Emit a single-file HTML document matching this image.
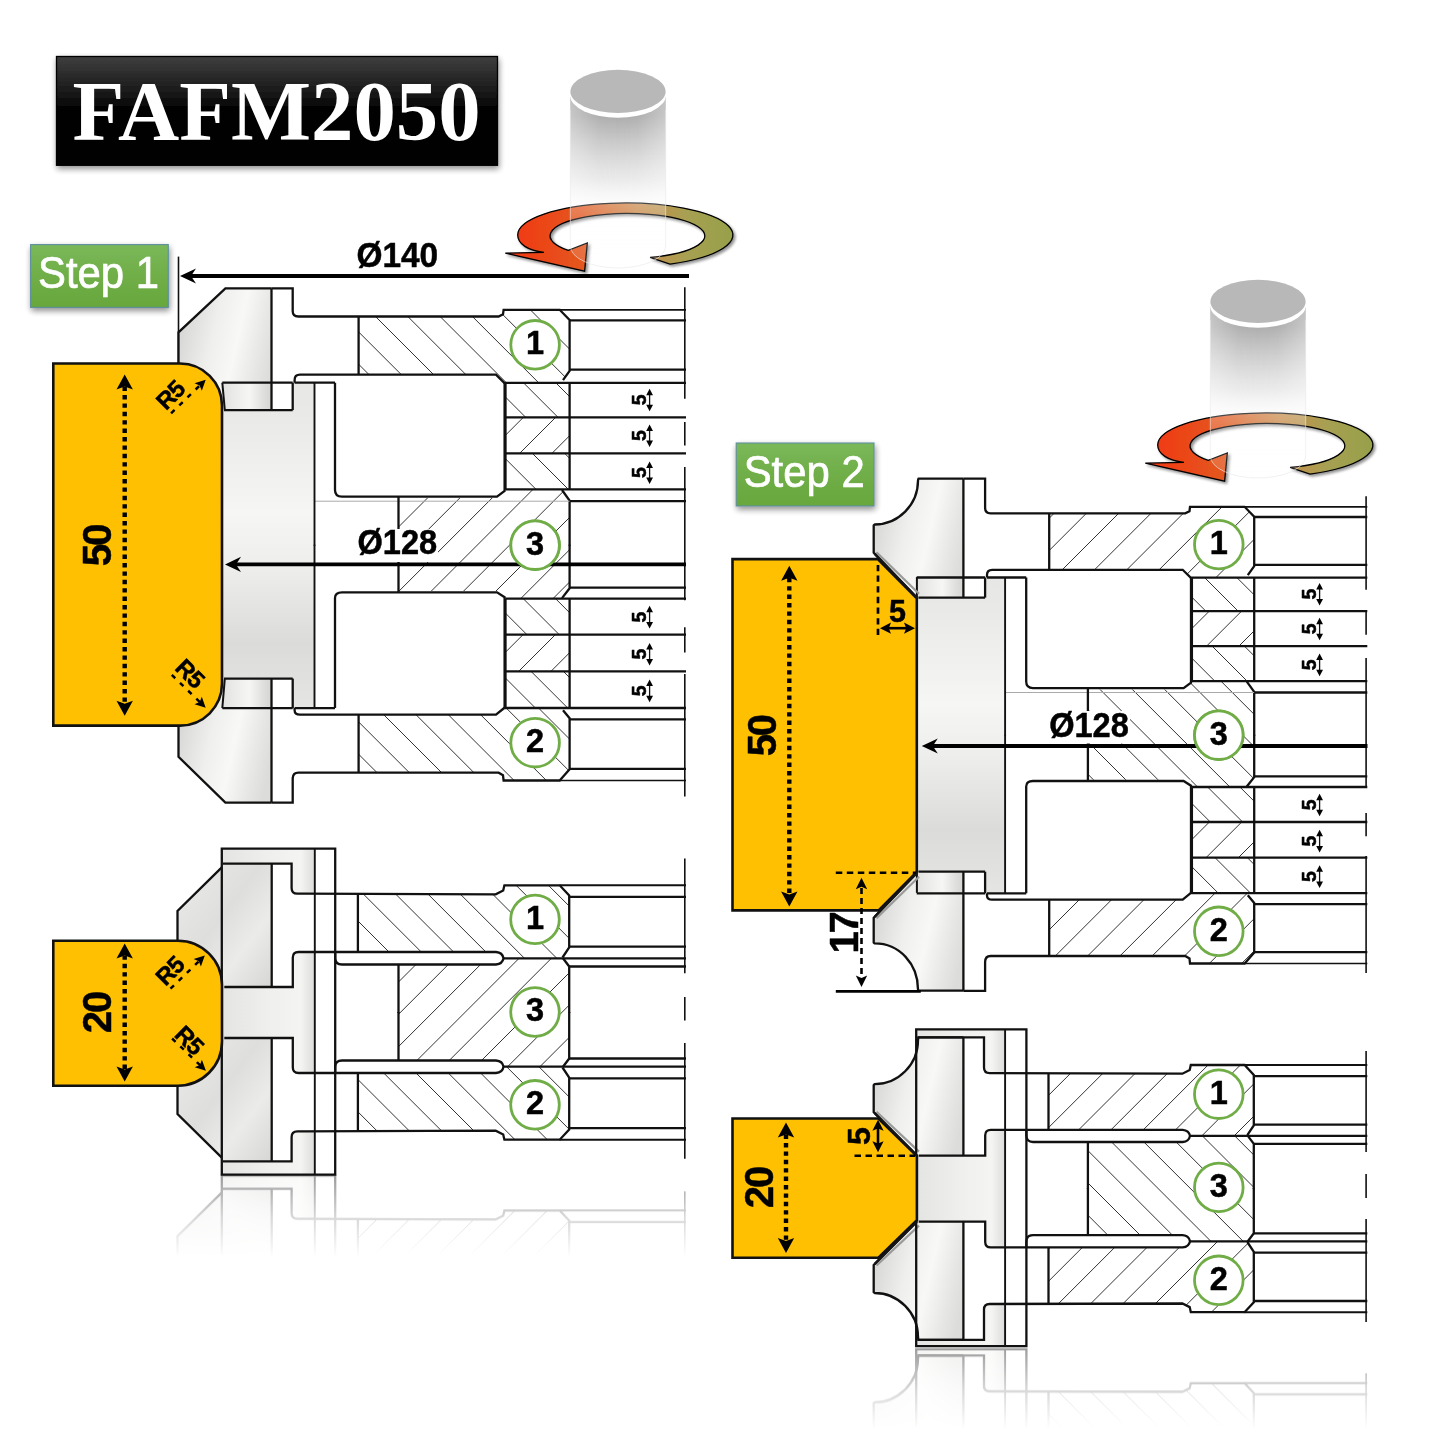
<!DOCTYPE html>
<html><head><meta charset="utf-8"><title>FAFM2050</title>
<style>
html,body{margin:0;padding:0;background:#fff;}
body{width:1445px;height:1445px;overflow:hidden;font-family:"Liberation Sans",sans-serif;}
svg{display:block;}
</style></head><body>
<svg width="1445" height="1445" viewBox="0 0 1445 1445">
<defs>

<linearGradient id="gTitle" x1="0" y1="0" x2="0" y2="1">
 <stop offset="0" stop-color="#3f3f3f"/><stop offset="0.18" stop-color="#2a2a2a"/><stop offset="0.34" stop-color="#181818"/><stop offset="0.5" stop-color="#000"/><stop offset="1" stop-color="#000"/>
</linearGradient>
<linearGradient id="gGreen" x1="0" y1="0" x2="0" y2="1">
 <stop offset="0" stop-color="#7ab85a"/><stop offset="0.5" stop-color="#70ae48"/><stop offset="1" stop-color="#67a73c"/>
</linearGradient>
<linearGradient id="gCyl" x1="0" y1="92" x2="0" y2="268" gradientUnits="userSpaceOnUse">
 <stop offset="0" stop-color="#9a9a9a" stop-opacity="0.95"/><stop offset="0.14" stop-color="#a4a4a4" stop-opacity="0.9"/>
 <stop offset="0.32" stop-color="#c4c4c4" stop-opacity="0.8"/><stop offset="0.5" stop-color="#e0e0e0" stop-opacity="0.65"/>
 <stop offset="0.62" stop-color="#f2f2f2" stop-opacity="0.32"/><stop offset="0.75" stop-color="#ffffff" stop-opacity="0.17"/><stop offset="1" stop-color="#ffffff" stop-opacity="0.13"/>
</linearGradient>
<linearGradient id="gCylH" x1="570" y1="0" x2="666" y2="0" gradientUnits="userSpaceOnUse">
 <stop offset="0" stop-color="#fff" stop-opacity="0.34"/><stop offset="0.3" stop-color="#fff" stop-opacity="0.04"/><stop offset="0.5" stop-color="#fff" stop-opacity="0"/>
 <stop offset="0.7" stop-color="#fff" stop-opacity="0.04"/><stop offset="1" stop-color="#fff" stop-opacity="0.34"/>
</linearGradient>
<linearGradient id="gRot" x1="520" y1="0" x2="733" y2="0" gradientUnits="userSpaceOnUse">
 <stop offset="0" stop-color="#f03c14"/><stop offset="0.28" stop-color="#e4561f"/><stop offset="0.55" stop-color="#cc8a4a"/>
 <stop offset="0.78" stop-color="#a7a052"/><stop offset="1" stop-color="#96a04a"/>
</linearGradient>
<linearGradient id="gKnife" x1="0" y1="0.35" x2="1" y2="0.65">
 <stop offset="0" stop-color="#d6d6d4"/><stop offset="0.35" stop-color="#efefed"/><stop offset="0.6" stop-color="#f8f8f6"/><stop offset="0.85" stop-color="#e6e6e4"/><stop offset="1" stop-color="#dcdcda"/>
</linearGradient>
<linearGradient id="gSeat" x1="0" y1="0" x2="1" y2="0">
 <stop offset="0" stop-color="#e2e2e0"/><stop offset="0.55" stop-color="#f6f6f4"/><stop offset="0.85" stop-color="#dededc"/><stop offset="1" stop-color="#d4d4d2"/>
</linearGradient>
<linearGradient id="gHub" x1="0" y1="0" x2="0" y2="1">
 <stop offset="0" stop-color="#e7e7e5"/><stop offset="0.1" stop-color="#e9e9e7"/><stop offset="0.4" stop-color="#f6f6f4"/>
 <stop offset="0.56" stop-color="#eeeeec"/><stop offset="0.8" stop-color="#dbdbd9"/><stop offset="1" stop-color="#e5e5e3"/>
</linearGradient>
<linearGradient id="gKnifeS" x1="0" y1="0" x2="1" y2="1">
 <stop offset="0" stop-color="#ececea"/><stop offset="0.45" stop-color="#dededc"/><stop offset="0.7" stop-color="#ebebe9"/><stop offset="1" stop-color="#d6d6d4"/>
</linearGradient>
<linearGradient id="gPlate" x1="0" y1="0" x2="1" y2="0">
 <stop offset="0" stop-color="#e4e4e2"/><stop offset="0.5" stop-color="#efefed"/><stop offset="0.85" stop-color="#f4f4f2"/><stop offset="1" stop-color="#dcdcda"/>
</linearGradient>
<filter id="fSh" x="-10%" y="-20%" width="120%" height="150%">
 <feGaussianBlur in="SourceAlpha" stdDeviation="3.2"/><feOffset dx="0.5" dy="3"/><feComponentTransfer><feFuncA type="linear" slope="0.45"/></feComponentTransfer>
 <feMerge><feMergeNode/><feMergeNode in="SourceGraphic"/></feMerge>
</filter>
<filter id="fSh2" x="-10%" y="-30%" width="120%" height="170%">
 <feGaussianBlur in="SourceAlpha" stdDeviation="1.8"/><feOffset dx="1.5" dy="2"/><feComponentTransfer><feFuncA type="linear" slope="0.45"/></feComponentTransfer>
 <feMerge><feMergeNode/><feMergeNode in="SourceGraphic"/></feMerge>
</filter>
<linearGradient id="gFadeL" x1="0" y1="1175" x2="0" y2="1258" gradientUnits="userSpaceOnUse">
 <stop offset="0" stop-color="#fff" stop-opacity="0.42"/><stop offset="0.5" stop-color="#fff" stop-opacity="0.17"/><stop offset="1" stop-color="#fff" stop-opacity="0"/>
</linearGradient>
<mask id="mL" maskUnits="userSpaceOnUse" x="0" y="1170" width="760" height="120"><rect x="0" y="1170" width="760" height="120" fill="url(#gFadeL)"/></mask>
<linearGradient id="gFadeR" x1="0" y1="1348" x2="0" y2="1430" gradientUnits="userSpaceOnUse">
 <stop offset="0" stop-color="#fff" stop-opacity="0.42"/><stop offset="0.5" stop-color="#fff" stop-opacity="0.17"/><stop offset="1" stop-color="#fff" stop-opacity="0"/>
</linearGradient>
<mask id="mR" maskUnits="userSpaceOnUse" x="700" y="1345" width="745" height="100"><rect x="700" y="1345" width="745" height="100" fill="url(#gFadeR)"/></mask>

<clipPath id="h1"><path d="M358.6 316.5L498.6 316.5L503 314.3L503.6 309.8L559.7 309.8L569.6 319.9L569.6 371L563.4 379.7L562 382.8L504.2 382.8L496 374.7L358.6 374.7Z"/></clipPath>
<clipPath id="h2"><path d="M358.6 772.7L498.6 772.7L503 775.3L503.6 780.5L559.7 780.5L569.6 769.2L569.6 718.2L563.4 710.6L562 708L504.2 708L496 714.7L358.6 714.7Z"/></clipPath>
<clipPath id="h3"><path d="M505.5 382.8L569.6 382.8L569.6 417.3L505.5 417.3Z"/></clipPath>
<clipPath id="h4"><path d="M505.5 708L569.6 708L569.6 671.4L505.5 671.4Z"/></clipPath>
<clipPath id="h5"><path d="M505.5 417.3L569.6 417.3L569.6 453.4L505.5 453.4Z"/></clipPath>
<clipPath id="h6"><path d="M505.5 671.4L569.6 671.4L569.6 634.7L505.5 634.7Z"/></clipPath>
<clipPath id="h7"><path d="M505.5 453.4L569.6 453.4L569.6 489.4L505.5 489.4Z"/></clipPath>
<clipPath id="h8"><path d="M505.5 634.7L569.6 634.7L569.6 598.6L505.5 598.6Z"/></clipPath>
<clipPath id="h9"><path d="M398.5 498L504.4 498L504.4 489.4L562 489.4L569.6 500.4L569.6 588.5L562 598.6L504.4 598.6L504.4 591L398.5 591Z"/></clipPath>
<clipPath id="h10"><path d="M357.9 894.3L495.7 894.3L503.5 890L504.4 885.3L559.7 885.3L569.2 895.5L569.2 947.5L563 957L562 958.3L504 958.3L496 952L357.9 952Z"/></clipPath>
<clipPath id="h11"><path d="M357.9 1130.7L495.7 1130.7L503.5 1135L504.4 1139.7L559.7 1139.7L569.2 1129.5L569.2 1077.5L563 1068L562 1066.7L504 1066.7L496 1073L357.9 1073Z"/></clipPath>
<clipPath id="h12"><path d="M398.5 964.5L500 964.5L503 958.3L563 958.3L569.2 966.5L569.2 1058.5L563 1066.7L503 1066.7L500 1060.5L398.5 1060.5Z"/></clipPath>
<clipPath id="h13"><path d="M1049.2 513.3L1185.2 513.3L1189.5 511.2L1190 506.8L1244.6 506.8L1254.2 516.6L1254.2 566.2L1248.2 574.6L1246.8 577.6L1190.6 577.6L1182.7 569.8L1049.2 569.8Z"/></clipPath>
<clipPath id="h14"><path d="M1049.2 956L1185.2 956L1189.5 958.4L1190 963.5L1244.6 963.5L1254.2 952.6L1254.2 903L1248.2 895.7L1246.8 893.2L1190.6 893.2L1182.7 899.7L1049.2 899.7Z"/></clipPath>
<clipPath id="h15"><path d="M1191.9 577.6L1254.2 577.6L1254.2 611.1L1191.9 611.1Z"/></clipPath>
<clipPath id="h16"><path d="M1191.9 893.2L1254.2 893.2L1254.2 857.7L1191.9 857.7Z"/></clipPath>
<clipPath id="h17"><path d="M1191.9 611.1L1254.2 611.1L1254.2 646.1L1191.9 646.1Z"/></clipPath>
<clipPath id="h18"><path d="M1191.9 857.7L1254.2 857.7L1254.2 822L1191.9 822Z"/></clipPath>
<clipPath id="h19"><path d="M1191.9 646.1L1254.2 646.1L1254.2 681.1L1191.9 681.1Z"/></clipPath>
<clipPath id="h20"><path d="M1191.9 822L1254.2 822L1254.2 787L1191.9 787Z"/></clipPath>
<clipPath id="h21"><path d="M1087.9 689.4L1190.8 689.4L1190.8 681.1L1246.8 681.1L1254.2 691.7L1254.2 777.3L1246.8 787L1190.8 787L1190.8 779.7L1087.9 779.7Z"/></clipPath>
<clipPath id="h22"><path d="M1048.5 1073.7L1182.4 1073.7L1190 1069.6L1190.8 1065L1244.6 1065L1253.8 1074.9L1253.8 1125.4L1247.8 1134.7L1246.8 1135.9L1190.4 1135.9L1182.7 1129.8L1048.5 1129.8Z"/></clipPath>
<clipPath id="h23"><path d="M1048.5 1303.5L1182.4 1303.5L1190 1307.6L1190.8 1312.2L1244.6 1312.2L1253.8 1302.3L1253.8 1251.8L1247.8 1242.5L1246.8 1241.3L1190.4 1241.3L1182.7 1247.4L1048.5 1247.4Z"/></clipPath>
<clipPath id="h24"><path d="M1087.9 1142L1186.6 1142L1189.5 1135.9L1247.8 1135.9L1253.8 1143.9L1253.8 1233.3L1247.8 1241.3L1189.5 1241.3L1186.6 1235.2L1087.9 1235.2Z"/></clipPath>
</defs>
<rect width="1445" height="1445" fill="#fff"/>
<g opacity="0.999">
<g filter="url(#fSh)"><rect x="56.5" y="56.5" width="441" height="108.8" fill="url(#gTitle)" stroke="#000" stroke-width="1.3"/></g>
<text x="276.6" y="140"  font-family="Liberation Serif, serif" font-weight="700" font-size="84.8" text-anchor="middle" fill="#fff">FAFM2050</text>
<g filter="url(#fSh)"><rect x="30.6" y="244.6" width="137.7" height="62.8" fill="url(#gGreen)" stroke="#5f8f9f" stroke-width="1.1"/></g>
<text transform="translate(98.5 288.2) scale(0.93 1)" x="0" y="0" font-family="Liberation Sans, sans-serif" font-weight="400" font-size="45" text-anchor="middle" fill="#fff" stroke="#fff" stroke-width="0.7">Step 1</text>
<g filter="url(#fSh)"><rect x="736.2" y="443" width="137.8" height="63" fill="url(#gGreen)" stroke="#5f8f9f" stroke-width="1.1"/></g>
<text transform="translate(804.2 486.8) scale(0.93 1)" x="0" y="0" font-family="Liberation Sans, sans-serif" font-weight="400" font-size="45" text-anchor="middle" fill="#fff" stroke="#fff" stroke-width="0.7">Step 2</text>
<line x1="178.5" y1="256.6" x2="178.5" y2="364" stroke="#111" stroke-width="1.6" />
<path d="M178.5 332.3L225.4 288.4L271.5 288.4L271.5 382.7L222 382.7L222 412L178.5 412Z" fill="url(#gKnife)" stroke="none" stroke-width="0" />
<path d="M222.3 382.7L271.5 382.7L271.5 410.1L224.8 410.1Z" fill="url(#gSeat)" stroke="none" stroke-width="0" />
<path d="M178.5 364L178.5 332.3L225.4 288.4L271.5 288.4" fill="none" stroke="#111" stroke-width="2.3" stroke-linejoin="miter"/>
<path d="M222.3 382.7L224.8 410.1" fill="none" stroke="#111" stroke-width="2" />
<path d="M178.5 756.8L225.4 802.6L271.5 802.6L271.5 708.1L222 708.1L222 676.7L178.5 676.7Z" fill="url(#gKnife)" stroke="none" stroke-width="0" />
<path d="M222.3 708.1L271.5 708.1L271.5 678.6L224.8 678.6Z" fill="url(#gSeat)" stroke="none" stroke-width="0" />
<path d="M178.5 725.1L178.5 756.8L225.4 802.6L271.5 802.6" fill="none" stroke="#111" stroke-width="2.3" stroke-linejoin="miter"/>
<path d="M222.3 708.1L224.8 678.6" fill="none" stroke="#111" stroke-width="2" />
<path d="M222 410.1L292.7 410.1L292.7 382.7L314.5 382.7L314.5 708.1L292.7 708.1L292.7 678.6L222 678.6Z" fill="url(#gHub)" stroke="none" stroke-width="0" />
<path clip-path="url(#h1)" d="M269.9 307.8L346.9 384.8M302.2 307.8L379.2 384.8M334.5 307.8L411.5 384.8M366.8 307.8L443.8 384.8M399.1 307.8L476.1 384.8M431.4 307.8L508.4 384.8M463.7 307.8L540.7 384.8M496 307.8L573 384.8M528.3 307.8L605.3 384.8M560.6 307.8L637.6 384.8" fill="none" stroke="#333" stroke-width="1"/>
<path clip-path="url(#h2)" d="M278.1 706L354.6 782.5M310.4 706L386.9 782.5M342.7 706L419.2 782.5M375 706L451.5 782.5M407.3 706L483.8 782.5M439.6 706L516.1 782.5M471.9 706L548.4 782.5M504.2 706L580.7 782.5M536.5 706L613 782.5" fill="none" stroke="#333" stroke-width="1"/>
<path clip-path="url(#h3)" d="M456.9 380.8L495.4 419.3M489.2 380.8L527.7 419.3M521.5 380.8L560 419.3M553.8 380.8L592.3 419.3" fill="none" stroke="#333" stroke-width="1"/>
<path clip-path="url(#h4)" d="M464.5 669.4L505.1 710M496.8 669.4L537.4 710M529.1 669.4L569.7 710M561.4 669.4L602 710" fill="none" stroke="#333" stroke-width="1"/>
<path clip-path="url(#h5)" d="M493.1 415.3L453 455.4M525.4 415.3L485.3 455.4M557.7 415.3L517.6 455.4M590 415.3L549.9 455.4" fill="none" stroke="#333" stroke-width="1"/>
<path clip-path="url(#h6)" d="M492.7 632.7L452 673.4M525 632.7L484.3 673.4M557.3 632.7L516.6 673.4M589.6 632.7L548.9 673.4" fill="none" stroke="#333" stroke-width="1"/>
<path clip-path="url(#h7)" d="M465.8 451.4L505.8 491.4M498.1 451.4L538.1 491.4M530.4 451.4L570.4 491.4M562.7 451.4L602.7 491.4" fill="none" stroke="#333" stroke-width="1"/>
<path clip-path="url(#h8)" d="M456.6 596.6L496.7 636.7M488.9 596.6L529 636.7M521.2 596.6L561.3 636.7M553.5 596.6L593.6 636.7" fill="none" stroke="#333" stroke-width="1"/>
<path clip-path="url(#h9)" d="M373.5 487.4L260.3 600.6M405.8 487.4L292.6 600.6M438.1 487.4L324.9 600.6M470.4 487.4L357.2 600.6M502.7 487.4L389.5 600.6M535 487.4L421.8 600.6M567.3 487.4L454.1 600.6M599.6 487.4L486.4 600.6M631.9 487.4L518.7 600.6M664.2 487.4L551 600.6" fill="none" stroke="#333" stroke-width="1"/>
<path d="M271.5 288.4L292.7 288.4L292.7 311Q292.7 316.5 298.3 316.5L498.6 316.5L503 314.3L503.6 309.8L559.7 309.8L569.6 319.9L569.6 371L563 380.2" fill="none" stroke="#111" stroke-width="2.3" />
<path d="M271.5 802.6L292.7 802.6L292.7 779.1Q292.7 772.7 298.3 772.7L498.6 772.7L503 775.3L503.6 780.5L559.7 780.5L569.6 769.2L569.6 718.2L563 710.2" fill="none" stroke="#111" stroke-width="2.3" />
<path d="M358.6 316.5L358.6 374.7" fill="none" stroke="#111" stroke-width="2.3" />
<path d="M358.6 772.7L358.6 714.7" fill="none" stroke="#111" stroke-width="2.3" />
<path d="M294.6 382.7L294.6 380Q294.6 374.7 300 374.7L496 374.7L504.2 382.8L686 382.8" fill="none" stroke="#111" stroke-width="2.3" />
<path d="M294.6 708.1L294.6 710.3Q294.6 714.7 300 714.7L496 714.7L504.2 708L686 708" fill="none" stroke="#111" stroke-width="2.3" />
<path d="M559.7 309.8L686 309.8" fill="none" stroke="#111" stroke-width="1.7" />
<path d="M559.7 780.5L686 780.5" fill="none" stroke="#111" stroke-width="1.7" />
<path d="M569.6 320.3L686 320.3" fill="none" stroke="#111" stroke-width="2.3" />
<path d="M569.6 768.8L686 768.8" fill="none" stroke="#111" stroke-width="2.3" />
<path d="M569.6 369.7L686 369.7" fill="none" stroke="#111" stroke-width="2.3" />
<path d="M569.6 719.4L686 719.4" fill="none" stroke="#111" stroke-width="2.3" />
<path d="M505.5 417.3L686 417.3" fill="none" stroke="#111" stroke-width="2.3" />
<path d="M505.5 671.4L686 671.4" fill="none" stroke="#111" stroke-width="2.3" />
<path d="M505.5 453.4L686 453.4" fill="none" stroke="#111" stroke-width="2.3" />
<path d="M505.5 634.7L686 634.7" fill="none" stroke="#111" stroke-width="2.3" />
<path d="M505.5 489.4L686 489.4" fill="none" stroke="#111" stroke-width="2.3" />
<path d="M505.5 598.6L686 598.6" fill="none" stroke="#111" stroke-width="2.3" />
<path d="M505.5 382.8L505.5 489.4" fill="none" stroke="#111" stroke-width="2.3" />
<path d="M505.5 708L505.5 598.6" fill="none" stroke="#111" stroke-width="2.3" />
<path d="M569.6 382.8L569.6 489.4" fill="none" stroke="#111" stroke-width="2.3" />
<path d="M569.6 708L569.6 598.6" fill="none" stroke="#111" stroke-width="2.3" />
<path d="M562 490L569.6 500.6L569.6 545.7" fill="none" stroke="#111" stroke-width="2.3" />
<path d="M562 598.1L569.6 588.3L569.6 544.7" fill="none" stroke="#111" stroke-width="2.3" />
<path d="M569.6 501.2L686 501.2" fill="none" stroke="#111" stroke-width="2.3" />
<path d="M569.6 587.7L686 587.7" fill="none" stroke="#111" stroke-width="2.3" />
<path d="M314.5 501.2L569.6 501.2" fill="none" stroke="#aaa" stroke-width="1" />
<path d="M398.5 497L398.5 545.7" fill="none" stroke="#111" stroke-width="2.3" />
<path d="M398.5 592.1L398.5 544.7" fill="none" stroke="#111" stroke-width="2.3" />
<path d="M335 382.7L335 490Q335 496.7 342 496.7L497 496.7L504.6 491L504.6 382.8" fill="none" stroke="#111" stroke-width="2.3" />
<path d="M335 708.1L335 598.1Q335 592.4 342 592.4L497 592.4L504.6 597.2L504.6 708" fill="none" stroke="#111" stroke-width="2.3" />
<path d="M314.5 382.7L314.5 545.7" fill="none" stroke="#111" stroke-width="1.9" />
<path d="M314.5 708.1L314.5 544.7" fill="none" stroke="#111" stroke-width="1.9" />
<path d="M294.6 382.7L335 382.7" fill="none" stroke="#111" stroke-width="2.3" />
<path d="M294.6 708.1L335 708.1" fill="none" stroke="#111" stroke-width="2.3" />
<path d="M222.3 382.7L292.7 382.7" fill="none" stroke="#111" stroke-width="2.3" />
<path d="M222.3 708.1L292.7 708.1" fill="none" stroke="#111" stroke-width="2.3" />
<path d="M224 410.1L292.7 410.1" fill="none" stroke="#111" stroke-width="2.3" />
<path d="M224 678.6L292.7 678.6" fill="none" stroke="#111" stroke-width="2.3" />
<path d="M271.5 288.4L271.5 410.1" fill="none" stroke="#111" stroke-width="2.3" />
<path d="M271.5 802.6L271.5 678.6" fill="none" stroke="#111" stroke-width="2.3" />
<path d="M292.7 382.7L292.7 410.1" fill="none" stroke="#111" stroke-width="2.3" />
<path d="M292.7 708.1L292.7 678.6" fill="none" stroke="#111" stroke-width="2.3" />
<line x1="684.8" y1="287.2" x2="684.8" y2="398.7" stroke="#111" stroke-width="1.6" />
<line x1="684.8" y1="422.1" x2="684.8" y2="445.5" stroke="#111" stroke-width="1.6" />
<line x1="684.8" y1="467.1" x2="684.8" y2="600.3" stroke="#111" stroke-width="1.6" />
<line x1="684.8" y1="627.2" x2="684.8" y2="652.4" stroke="#111" stroke-width="1.6" />
<line x1="684.8" y1="674" x2="684.8" y2="796.4" stroke="#111" stroke-width="1.6" />
<circle cx="535.1" cy="344.8" r="24.3" fill="#fff" stroke="#70ad47" stroke-width="2.8"/>
<text x="535.1" y="354.1" font-family="Liberation Sans, sans-serif" font-weight="700" font-size="32.5" text-anchor="middle" fill="#000" stroke="#000" stroke-width="0.5">1</text>
<circle cx="535.1" cy="545.2" r="24.3" fill="#fff" stroke="#70ad47" stroke-width="2.8"/>
<text x="535.1" y="554.5" font-family="Liberation Sans, sans-serif" font-weight="700" font-size="32.5" text-anchor="middle" fill="#000" stroke="#000" stroke-width="0.5">3</text>
<circle cx="535.1" cy="742.7" r="24.3" fill="#fff" stroke="#70ad47" stroke-width="2.8"/>
<text x="535.1" y="752" font-family="Liberation Sans, sans-serif" font-weight="700" font-size="32.5" text-anchor="middle" fill="#000" stroke="#000" stroke-width="0.5">2</text>
<text x="0" y="7" transform="translate(639 399.9) rotate(-90)" font-family="Liberation Sans, sans-serif" font-weight="700" font-size="19.5" text-anchor="middle" fill="#000" stroke="#000" stroke-width="0.5" stroke-linejoin="round">5</text>
<line x1="649.6" y1="391.7" x2="649.6" y2="408.3" stroke="#111" stroke-width="1.3" />
<polygon points="649.6,388.7 653,395.2 646.2,395.2" fill="#000"/>
<polygon points="649.6,411.3 646.2,404.8 653,404.8" fill="#000"/>
<text x="0" y="7" transform="translate(639 435.6) rotate(-90)" font-family="Liberation Sans, sans-serif" font-weight="700" font-size="19.5" text-anchor="middle" fill="#000" stroke="#000" stroke-width="0.5" stroke-linejoin="round">5</text>
<line x1="649.6" y1="427.4" x2="649.6" y2="444" stroke="#111" stroke-width="1.3" />
<polygon points="649.6,424.4 653,430.9 646.2,430.9" fill="#000"/>
<polygon points="649.6,447 646.2,440.5 653,440.5" fill="#000"/>
<text x="0" y="7" transform="translate(639 472.6) rotate(-90)" font-family="Liberation Sans, sans-serif" font-weight="700" font-size="19.5" text-anchor="middle" fill="#000" stroke="#000" stroke-width="0.5" stroke-linejoin="round">5</text>
<line x1="649.6" y1="464.4" x2="649.6" y2="481" stroke="#111" stroke-width="1.3" />
<polygon points="649.6,461.4 653,467.9 646.2,467.9" fill="#000"/>
<polygon points="649.6,484 646.2,477.5 653,477.5" fill="#000"/>
<text x="0" y="7" transform="translate(639 617) rotate(-90)" font-family="Liberation Sans, sans-serif" font-weight="700" font-size="19.5" text-anchor="middle" fill="#000" stroke="#000" stroke-width="0.5" stroke-linejoin="round">5</text>
<line x1="649.6" y1="608.8" x2="649.6" y2="625.4" stroke="#111" stroke-width="1.3" />
<polygon points="649.6,605.8 653,612.3 646.2,612.3" fill="#000"/>
<polygon points="649.6,628.4 646.2,621.9 653,621.9" fill="#000"/>
<text x="0" y="7" transform="translate(639 654.2) rotate(-90)" font-family="Liberation Sans, sans-serif" font-weight="700" font-size="19.5" text-anchor="middle" fill="#000" stroke="#000" stroke-width="0.5" stroke-linejoin="round">5</text>
<line x1="649.6" y1="646" x2="649.6" y2="662.6" stroke="#111" stroke-width="1.3" />
<polygon points="649.6,643 653,649.5 646.2,649.5" fill="#000"/>
<polygon points="649.6,665.6 646.2,659.1 653,659.1" fill="#000"/>
<text x="0" y="7" transform="translate(639 690.8) rotate(-90)" font-family="Liberation Sans, sans-serif" font-weight="700" font-size="19.5" text-anchor="middle" fill="#000" stroke="#000" stroke-width="0.5" stroke-linejoin="round">5</text>
<line x1="649.6" y1="682.6" x2="649.6" y2="699.2" stroke="#111" stroke-width="1.3" />
<polygon points="649.6,679.6 653,686.1 646.2,686.1" fill="#000"/>
<polygon points="649.6,702.2 646.2,695.7 653,695.7" fill="#000"/>
<path d="M53.3 363.5 H180 A42 42 0 0 1 222 405.5 V683.6 A42 42 0 0 1 180 725.6 H53.3 Z" fill="#ffc000" stroke="#111" stroke-width="2.6"/>
<polygon points="124.7,374.6 132.9,389.6 124.7,386.6 116.5,389.6" fill="#000"/>
<polygon points="124.7,715.7 116.5,700.7 124.7,703.7 132.9,700.7" fill="#000"/>
<line x1="124.7" y1="386.6" x2="124.7" y2="703.7" stroke="#000" stroke-width="4.4" stroke-dasharray="4.4 4"/>
<text x="-1.1" y="14.5" transform="translate(96.4 544.8) rotate(-90)" font-family="Liberation Sans, sans-serif" font-weight="700" font-size="40.5" text-anchor="middle" fill="#000" stroke="#000" stroke-width="0.5" stroke-linejoin="round" letter-spacing="-2.2">50</text>
<text x="-0.4" y="8.6" transform="translate(170.4 394.6) rotate(-45)" font-family="Liberation Sans, sans-serif" font-weight="700" font-size="24" text-anchor="middle" fill="#000" stroke="#000" stroke-width="0.5" stroke-linejoin="round" letter-spacing="-0.8">R5</text>
<line x1="171.1" y1="413.3" x2="200.7" y2="384.6" stroke="#000" stroke-width="2.5" stroke-dasharray="4.8 6.6"/>
<polygon points="205.7,379.7 201.8,390.7 199.7,385.5 194.5,383.3" fill="#000"/>
<text x="-0.4" y="8.6" transform="translate(190.5 673.5) rotate(45)" font-family="Liberation Sans, sans-serif" font-weight="700" font-size="24" text-anchor="middle" fill="#000" stroke="#000" stroke-width="0.5" stroke-linejoin="round" letter-spacing="-0.8">R5</text>
<line x1="171.8" y1="674.9" x2="200.7" y2="702.9" stroke="#000" stroke-width="2.5" stroke-dasharray="4.8 6.6"/>
<polygon points="205.7,707.8 194.5,704.2 199.7,702 201.8,696.8" fill="#000"/>
<line x1="188" y1="276" x2="689" y2="276" stroke="#000" stroke-width="3.8" />
<polygon points="180,276 196,268.4 191,276 196,283.6" fill="#000"/>
<text x="0" y="0" transform="translate(397.3 267) scale(0.95 1)" font-family="Liberation Sans, sans-serif" font-weight="700" font-size="35.2" text-anchor="middle" fill="#000" stroke="#000" stroke-width="0.5" stroke-linejoin="round">&#216;140</text>
<line x1="233" y1="564.4" x2="686" y2="564.4" stroke="#000" stroke-width="3.8" />
<polygon points="225,564.4 241,556.8 236,564.4 241,572" fill="#000"/>
<rect x="357" y="529" width="81" height="33" fill="#fff"/>
<text x="0" y="0" transform="translate(397.3 554.2) scale(0.95 1)" font-family="Liberation Sans, sans-serif" font-weight="700" font-size="34.3" text-anchor="middle" fill="#000" stroke="#000" stroke-width="0.5" stroke-linejoin="round">&#216;128</text>
<circle cx="535.1" cy="545.2" r="24.3" fill="#fff" stroke="#70ad47" stroke-width="2.8"/>
<text x="535.1" y="554.5" font-family="Liberation Sans, sans-serif" font-weight="700" font-size="32.5" text-anchor="middle" fill="#000" stroke="#000" stroke-width="0.5">3</text>
<g id="lowL">
<path d="M221.8 848.7L314.8 848.7L314.8 1174.6L221.8 1174.6Z" fill="url(#gPlate)" stroke="none" stroke-width="0" />
<path d="M177.5 911L221.8 867.4L221.8 863.6L271.7 863.6L271.7 987L177.5 987Z" fill="url(#gKnifeS)" stroke="none" stroke-width="0" />
<path d="M177.5 942L177.5 911L221.8 867.4" fill="none" stroke="#111" stroke-width="2.3" stroke-linejoin="miter"/>
<path d="M177.5 1114L221.8 1157.6L221.8 1161.4L271.7 1161.4L271.7 1038L177.5 1038Z" fill="url(#gKnifeS)" stroke="none" stroke-width="0" />
<path d="M177.5 1083L177.5 1114L221.8 1157.6" fill="none" stroke="#111" stroke-width="2.3" stroke-linejoin="miter"/>
<path d="M271.7 863.6L291.6 863.6L291.6 888Q291.6 893.5 297.3 893.5L336 893.5L336 952L298.5 952Q292.8 952 292.8 957.5L292.8 987L271.7 987Z" fill="#fff" stroke="none" stroke-width="0" />
<path d="M271.7 1161.4L291.6 1161.4L291.6 1137Q291.6 1131.5 297.3 1131.5L336 1131.5L336 1073L298.5 1073Q292.8 1073 292.8 1067.5L292.8 1038L271.7 1038Z" fill="#fff" stroke="none" stroke-width="0" />
<path d="M314.8 848.7L335.2 848.7L335.2 1174.6L314.8 1174.6Z" fill="#fff" stroke="none" stroke-width="0" />
<path clip-path="url(#h10)" d="M255.7 883.3L332.7 960.3M288 883.3L365 960.3M320.3 883.3L397.3 960.3M352.6 883.3L429.6 960.3M384.9 883.3L461.9 960.3M417.2 883.3L494.2 960.3M449.5 883.3L526.5 960.3M481.8 883.3L558.8 960.3M514.1 883.3L591.1 960.3M546.4 883.3L623.4 960.3" fill="none" stroke="#333" stroke-width="1"/>
<path clip-path="url(#h11)" d="M278.5 1064.7L355.5 1141.7M310.8 1064.7L387.8 1141.7M343.1 1064.7L420.1 1141.7M375.4 1064.7L452.4 1141.7M407.7 1064.7L484.7 1141.7M440 1064.7L517 1141.7M472.3 1064.7L549.3 1141.7M504.6 1064.7L581.6 1141.7M536.9 1064.7L613.9 1141.7" fill="none" stroke="#333" stroke-width="1"/>
<path clip-path="url(#h12)" d="M391.9 956.3L279.5 1068.7M424.2 956.3L311.8 1068.7M456.5 956.3L344.1 1068.7M488.8 956.3L376.4 1068.7M521.1 956.3L408.7 1068.7M553.4 956.3L441 1068.7M585.7 956.3L473.3 1068.7M618 956.3L505.6 1068.7M650.3 956.3L537.9 1068.7" fill="none" stroke="#333" stroke-width="1"/>
<path d="M221.8 848.7L335.2 848.7L335.2 1174.6L221.8 1174.6Z" fill="none" stroke="#111" stroke-width="2.3" />
<path d="M314.8 848.7L314.8 1174.6" fill="none" stroke="#111" stroke-width="1.9" />
<path d="M223 863.6L291.6 863.6L291.6 888Q291.6 893.7 297.3 893.7L495.7 894.3L503.2 890.5L504.4 885.3L559.7 885.3L569.2 895.5L569.2 947.5L562.5 957.5" fill="none" stroke="#111" stroke-width="2.3" />
<path d="M223 1161.4L291.6 1161.4L291.6 1137Q291.6 1131.3 297.3 1131.3L495.7 1130.7L503.2 1134.5L504.4 1139.7L559.7 1139.7L569.2 1129.5L569.2 1077.5L562.5 1067.5" fill="none" stroke="#111" stroke-width="2.3" />
<path d="M559.7 885.3L686 885.3" fill="none" stroke="#111" stroke-width="2" />
<path d="M559.7 1139.7L686 1139.7" fill="none" stroke="#111" stroke-width="2" />
<path d="M569.2 896.8L686 896.8" fill="none" stroke="#111" stroke-width="2.3" />
<path d="M569.2 1128.2L686 1128.2" fill="none" stroke="#111" stroke-width="2.3" />
<path d="M569.2 946.6L686 946.6" fill="none" stroke="#111" stroke-width="2.3" />
<path d="M569.2 1078.4L686 1078.4" fill="none" stroke="#111" stroke-width="2.3" />
<path d="M503.5 958.3L686 958.3" fill="none" stroke="#111" stroke-width="2.3" />
<path d="M503.5 1066.7L686 1066.7" fill="none" stroke="#111" stroke-width="2.3" />
<path d="M569.2 966.5L686 966.5" fill="none" stroke="#111" stroke-width="2.3" />
<path d="M569.2 1058.5L686 1058.5" fill="none" stroke="#111" stroke-width="2.3" />
<path d="M357.9 894.3L357.9 952" fill="none" stroke="#111" stroke-width="2.3" />
<path d="M357.9 1130.7L357.9 1073" fill="none" stroke="#111" stroke-width="2.3" />
<path d="M224.3 987L292.8 987L292.8 957.5Q292.8 952 298.5 952L496 952Q502.5 952.5 503.5 958.3Q502.5 964 496 964.5L342 964.5Q335.2 964.5 335.2 958L335.2 952" fill="none" stroke="#111" stroke-width="2.3" />
<path d="M224.3 1038L292.8 1038L292.8 1067.5Q292.8 1073 298.5 1073L496 1073Q502.5 1072.5 503.5 1066.7Q502.5 1061 496 1060.5L342 1060.5Q335.2 1060.5 335.2 1067L335.2 1073" fill="none" stroke="#111" stroke-width="2.3" />
<path d="M271.7 863.6L271.7 987" fill="none" stroke="#111" stroke-width="2.3" />
<path d="M271.7 1161.4L271.7 1038" fill="none" stroke="#111" stroke-width="2.3" />
<path d="M398.5 964.5L398.5 1013" fill="none" stroke="#111" stroke-width="2.3" />
<path d="M398.5 1060.5L398.5 1012" fill="none" stroke="#111" stroke-width="2.3" />
<path d="M563 958.3L569.2 966.5L569.2 1013" fill="none" stroke="#111" stroke-width="2.3" />
<path d="M563 1066.7L569.2 1058.5L569.2 1012" fill="none" stroke="#111" stroke-width="2.3" />
<line x1="684.8" y1="858.6" x2="684.8" y2="973.2" stroke="#111" stroke-width="1.6" />
<line x1="684.8" y1="997" x2="684.8" y2="1020.6" stroke="#111" stroke-width="1.6" />
<line x1="684.8" y1="1043" x2="684.8" y2="1158.8" stroke="#111" stroke-width="1.6" />
<path d="M53.3 940.7 H177.8 A44.2 44.2 0 0 1 222 984.9 V1041.5 A44.2 44.2 0 0 1 177.8 1085.7 H53.3 Z" fill="#ffc000" stroke="#111" stroke-width="2.6"/>
<polygon points="124.7,943.4 132.9,958.4 124.7,955.4 116.5,958.4" fill="#000"/>
<polygon points="124.7,1081.6 116.5,1066.6 124.7,1069.6 132.9,1066.6" fill="#000"/>
<line x1="124.7" y1="955.4" x2="124.7" y2="1069.6" stroke="#000" stroke-width="4.4" stroke-dasharray="4.4 4"/>
<text x="-1.1" y="14.3" transform="translate(96.2 1012) rotate(-90)" font-family="Liberation Sans, sans-serif" font-weight="700" font-size="40" text-anchor="middle" fill="#000" stroke="#000" stroke-width="0.5" stroke-linejoin="round" letter-spacing="-2.2">20</text>
<text x="-0.4" y="8.6" transform="translate(169.9 970.4) rotate(-45)" font-family="Liberation Sans, sans-serif" font-weight="700" font-size="24" text-anchor="middle" fill="#000" stroke="#000" stroke-width="0.5" stroke-linejoin="round" letter-spacing="-0.8">R5</text>
<line x1="170.5" y1="988.7" x2="199.8" y2="960.4" stroke="#000" stroke-width="2.5" stroke-dasharray="4.8 6.6"/>
<polygon points="204.8,955.5 200.9,966.5 198.8,961.3 193.6,959.1" fill="#000"/>
<text x="-0.4" y="8.6" transform="translate(189.8 1040.2) rotate(45)" font-family="Liberation Sans, sans-serif" font-weight="700" font-size="24" text-anchor="middle" fill="#000" stroke="#000" stroke-width="0.5" stroke-linejoin="round" letter-spacing="-0.8">R5</text>
<line x1="172.1" y1="1038.5" x2="200.8" y2="1065.9" stroke="#000" stroke-width="2.5" stroke-dasharray="4.8 6.6"/>
<polygon points="205.9,1070.7 194.7,1067.2 199.9,1065 201.9,1059.7" fill="#000"/>
</g>
<g mask="url(#mL)"><use href="#lowL" transform="translate(0 2350.2) scale(1 -1)"/></g>
<circle cx="535" cy="919.4" r="24.3" fill="#fff" stroke="#70ad47" stroke-width="2.8"/>
<text x="535" y="928.7" font-family="Liberation Sans, sans-serif" font-weight="700" font-size="32.5" text-anchor="middle" fill="#000" stroke="#000" stroke-width="0.5">1</text>
<circle cx="535" cy="1012" r="24.3" fill="#fff" stroke="#70ad47" stroke-width="2.8"/>
<text x="535" y="1021.3" font-family="Liberation Sans, sans-serif" font-weight="700" font-size="32.5" text-anchor="middle" fill="#000" stroke="#000" stroke-width="0.5">3</text>
<circle cx="535" cy="1104.8" r="24.3" fill="#fff" stroke="#70ad47" stroke-width="2.8"/>
<text x="535" y="1114.1" font-family="Liberation Sans, sans-serif" font-weight="700" font-size="32.5" text-anchor="middle" fill="#000" stroke="#000" stroke-width="0.5">2</text>
<path d="M963.4 478.7L918.4 478.7L918 480.5C918 504.8 898.3 524.5 874.6 524.5L873.7 525.3L873.7 552.8L916.7 597.6L963.4 597.6Z" fill="url(#gKnife)" stroke="none" stroke-width="0" />
<path d="M916.7 577.1L963.4 577.1L963.4 597.6L916.7 597.6Z" fill="url(#gSeat)" stroke="none" stroke-width="0" />
<path d="M916.9 577.1L916.9 597.6" fill="none" stroke="#111" stroke-width="2" />
<path d="M876.5 552.3L919 593.8" fill="none" stroke="#9a9a98" stroke-width="2.2" />
<path d="M963.4 478.7L918.4 478.7L918 480.5C918 504.8 898.3 524.5 874.6 524.5L873.7 525.3L873.7 552.8L916.7 597.6" fill="none" stroke="#111" stroke-width="2.3" stroke-linejoin="round"/>
<path d="M874.5 553.6L916.9 597.8" fill="none" stroke="#1a1a1a" stroke-width="2.4" />
<path d="M963.4 990.7L918.4 990.7L918 989.4C918 964 899.4 943.4 874.6 943.4L873.7 942.6L873.7 917.8L916.7 873L963.4 873Z" fill="url(#gKnife)" stroke="none" stroke-width="0" />
<path d="M916.7 892.8L963.4 892.8L963.4 873L916.7 873Z" fill="url(#gSeat)" stroke="none" stroke-width="0" />
<path d="M916.9 892.8L916.9 873" fill="none" stroke="#111" stroke-width="2" />
<path d="M876.5 918.3L919 876.8" fill="none" stroke="#9a9a98" stroke-width="2.2" />
<path d="M963.4 990.7L918.4 990.7L918 989.4C918 964 899.4 943.4 874.6 943.4L873.7 942.6L873.7 917.8L916.7 873" fill="none" stroke="#111" stroke-width="2.3" stroke-linejoin="round"/>
<path d="M874.5 917L916.9 872.8" fill="none" stroke="#1a1a1a" stroke-width="2.4" />
<path d="M916.4 597.6L985.1 597.6L985.1 577.5L1005.1 577.5L1005.1 893.3L985.1 893.3L985.1 871.7L916.4 871.7Z" fill="url(#gHub)" stroke="none" stroke-width="0" />
<path clip-path="url(#h13)" d="M1030.3 504.8L955.5 579.6M1062.6 504.8L987.8 579.6M1094.9 504.8L1020.1 579.6M1127.2 504.8L1052.4 579.6M1159.5 504.8L1084.7 579.6M1191.8 504.8L1117 579.6M1224.1 504.8L1149.3 579.6M1256.4 504.8L1181.6 579.6M1288.7 504.8L1213.9 579.6M1321 504.8L1246.2 579.6" fill="none" stroke="#333" stroke-width="1"/>
<path clip-path="url(#h14)" d="M1023.2 891.2L948.9 965.5M1055.5 891.2L981.2 965.5M1087.8 891.2L1013.5 965.5M1120.1 891.2L1045.8 965.5M1152.4 891.2L1078.1 965.5M1184.7 891.2L1110.4 965.5M1217 891.2L1142.7 965.5M1249.3 891.2L1175 965.5M1281.6 891.2L1207.3 965.5M1313.9 891.2L1239.6 965.5" fill="none" stroke="#333" stroke-width="1"/>
<path clip-path="url(#h15)" d="M1138 575.6L1175.5 613.1M1170.3 575.6L1207.8 613.1M1202.6 575.6L1240.1 613.1M1234.9 575.6L1272.4 613.1" fill="none" stroke="#333" stroke-width="1"/>
<path clip-path="url(#h16)" d="M1148.5 855.7L1188 895.2M1180.8 855.7L1220.3 895.2M1213.1 855.7L1252.6 895.2M1245.4 855.7L1284.9 895.2" fill="none" stroke="#333" stroke-width="1"/>
<path clip-path="url(#h17)" d="M1179 609.1L1140 648.1M1211.3 609.1L1172.3 648.1M1243.6 609.1L1204.6 648.1M1275.9 609.1L1236.9 648.1" fill="none" stroke="#333" stroke-width="1"/>
<path clip-path="url(#h18)" d="M1179.1 820L1139.4 859.7M1211.4 820L1171.7 859.7M1243.7 820L1204 859.7M1276 820L1236.3 859.7" fill="none" stroke="#333" stroke-width="1"/>
<path clip-path="url(#h19)" d="M1145.5 644.1L1184.5 683.1M1177.8 644.1L1216.8 683.1M1210.1 644.1L1249.1 683.1M1242.4 644.1L1281.4 683.1" fill="none" stroke="#333" stroke-width="1"/>
<path clip-path="url(#h20)" d="M1141 785L1180 824M1173.3 785L1212.3 824M1205.6 785L1244.6 824M1237.9 785L1276.9 824" fill="none" stroke="#333" stroke-width="1"/>
<path clip-path="url(#h21)" d="M960.5 679.1L1070.4 789M992.8 679.1L1102.7 789M1025.1 679.1L1135 789M1057.4 679.1L1167.3 789M1089.7 679.1L1199.6 789M1122 679.1L1231.9 789M1154.3 679.1L1264.2 789M1186.6 679.1L1296.5 789M1218.9 679.1L1328.8 789M1251.2 679.1L1361.1 789" fill="none" stroke="#333" stroke-width="1"/>
<path d="M963.4 478.7L985.1 478.7L985.1 508Q985.1 513.3 990.6 513.3L1185.2 513.3L1189.5 511.2L1190 506.8L1244.6 506.8L1254.2 516.6L1254.2 566.2L1247.8 575.1" fill="none" stroke="#111" stroke-width="2.3" />
<path d="M963.4 990.8L985.1 990.8L985.1 962.2Q985.1 956 990.6 956L1185.2 956L1189.5 958.4L1190 963.5L1244.6 963.5L1254.2 952.6L1254.2 903L1247.8 895.3" fill="none" stroke="#111" stroke-width="2.3" />
<path d="M1049.2 513.3L1049.2 569.8" fill="none" stroke="#111" stroke-width="2.3" />
<path d="M1049.2 956L1049.2 899.7" fill="none" stroke="#111" stroke-width="2.3" />
<path d="M987 577.5L987 574.9Q987 569.8 992.2 569.8L1182.7 569.8L1190.6 577.6L1367.3 577.6" fill="none" stroke="#111" stroke-width="2.3" />
<path d="M987 893.3L987 895.4Q987 899.7 992.2 899.7L1182.7 899.7L1190.6 893.2L1367.3 893.2" fill="none" stroke="#111" stroke-width="2.3" />
<path d="M1244.6 506.8L1367.3 506.8" fill="none" stroke="#111" stroke-width="1.7" />
<path d="M1244.6 963.5L1367.3 963.5" fill="none" stroke="#111" stroke-width="1.7" />
<path d="M1254.2 517L1367.3 517" fill="none" stroke="#111" stroke-width="2.3" />
<path d="M1254.2 952.2L1367.3 952.2" fill="none" stroke="#111" stroke-width="2.3" />
<path d="M1254.2 564.9L1367.3 564.9" fill="none" stroke="#111" stroke-width="2.3" />
<path d="M1254.2 904.2L1367.3 904.2" fill="none" stroke="#111" stroke-width="2.3" />
<path d="M1191.9 611.1L1367.3 611.1" fill="none" stroke="#111" stroke-width="2.3" />
<path d="M1191.9 857.7L1367.3 857.7" fill="none" stroke="#111" stroke-width="2.3" />
<path d="M1191.9 646.1L1367.3 646.1" fill="none" stroke="#111" stroke-width="2.3" />
<path d="M1191.9 822L1367.3 822" fill="none" stroke="#111" stroke-width="2.3" />
<path d="M1191.9 681.1L1367.3 681.1" fill="none" stroke="#111" stroke-width="2.3" />
<path d="M1191.9 787L1367.3 787" fill="none" stroke="#111" stroke-width="2.3" />
<path d="M1191.9 577.6L1191.9 681.1" fill="none" stroke="#111" stroke-width="2.3" />
<path d="M1191.9 893.2L1191.9 787" fill="none" stroke="#111" stroke-width="2.3" />
<path d="M1254.2 577.6L1254.2 681.1" fill="none" stroke="#111" stroke-width="2.3" />
<path d="M1254.2 893.2L1254.2 787" fill="none" stroke="#111" stroke-width="2.3" />
<path d="M1246.8 681.6L1254.2 691.9L1254.2 735.7" fill="none" stroke="#111" stroke-width="2.3" />
<path d="M1246.8 786.5L1254.2 777.1L1254.2 734.7" fill="none" stroke="#111" stroke-width="2.3" />
<path d="M1254.2 692.5L1367.3 692.5" fill="none" stroke="#111" stroke-width="2.3" />
<path d="M1254.2 776.4L1367.3 776.4" fill="none" stroke="#111" stroke-width="2.3" />
<path d="M1005.1 692.5L1254.2 692.5" fill="none" stroke="#aaa" stroke-width="1" />
<path d="M1087.9 688.4L1087.9 735.7" fill="none" stroke="#111" stroke-width="2.3" />
<path d="M1087.9 780.7L1087.9 734.7" fill="none" stroke="#111" stroke-width="2.3" />
<path d="M1026.2 577.5L1026.2 681.6Q1026.2 688.1 1033 688.1L1183.6 688.1L1191 682.6L1191 577.6" fill="none" stroke="#111" stroke-width="2.3" />
<path d="M1026.2 893.3L1026.2 786.5Q1026.2 781 1033 781L1183.6 781L1191 785.7L1191 893.2" fill="none" stroke="#111" stroke-width="2.3" />
<path d="M1005.1 577.5L1005.1 735.7" fill="none" stroke="#111" stroke-width="1.9" />
<path d="M1005.1 893.3L1005.1 734.7" fill="none" stroke="#111" stroke-width="1.9" />
<path d="M987 577.5L1026.2 577.5" fill="none" stroke="#111" stroke-width="2.3" />
<path d="M987 893.3L1026.2 893.3" fill="none" stroke="#111" stroke-width="2.3" />
<path d="M916.7 577.5L985.1 577.5" fill="none" stroke="#111" stroke-width="2.3" />
<path d="M916.7 893.3L985.1 893.3" fill="none" stroke="#111" stroke-width="2.3" />
<path d="M918.4 597.6L985.1 597.6" fill="none" stroke="#111" stroke-width="2.3" />
<path d="M918.4 871.7L985.1 871.7" fill="none" stroke="#111" stroke-width="2.3" />
<path d="M963.4 478.7L963.4 597.6" fill="none" stroke="#111" stroke-width="2.3" />
<path d="M963.4 990.8L963.4 871.7" fill="none" stroke="#111" stroke-width="2.3" />
<path d="M985.1 577.5L985.1 597.6" fill="none" stroke="#111" stroke-width="2.3" />
<path d="M985.1 893.3L985.1 871.7" fill="none" stroke="#111" stroke-width="2.3" />
<line x1="1366.1" y1="496.2" x2="1366.1" y2="589.8" stroke="#111" stroke-width="1.6" />
<line x1="1366.1" y1="611.3" x2="1366.1" y2="634.7" stroke="#111" stroke-width="1.6" />
<line x1="1366.1" y1="658.1" x2="1366.1" y2="787.7" stroke="#111" stroke-width="1.6" />
<line x1="1366.1" y1="812.9" x2="1366.1" y2="836.2" stroke="#111" stroke-width="1.6" />
<line x1="1366.1" y1="856" x2="1366.1" y2="973" stroke="#111" stroke-width="1.6" />
<circle cx="1218.8" cy="544.6" r="24.3" fill="#fff" stroke="#70ad47" stroke-width="2.8"/>
<text x="1218.8" y="553.9" font-family="Liberation Sans, sans-serif" font-weight="700" font-size="32.5" text-anchor="middle" fill="#000" stroke="#000" stroke-width="0.5">1</text>
<circle cx="1218.8" cy="735.2" r="24.3" fill="#fff" stroke="#70ad47" stroke-width="2.8"/>
<text x="1218.8" y="744.5" font-family="Liberation Sans, sans-serif" font-weight="700" font-size="32.5" text-anchor="middle" fill="#000" stroke="#000" stroke-width="0.5">3</text>
<circle cx="1218.8" cy="931.3" r="24.3" fill="#fff" stroke="#70ad47" stroke-width="2.8"/>
<text x="1218.8" y="940.6" font-family="Liberation Sans, sans-serif" font-weight="700" font-size="32.5" text-anchor="middle" fill="#000" stroke="#000" stroke-width="0.5">2</text>
<text x="0" y="7" transform="translate(1309 594.2) rotate(-90)" font-family="Liberation Sans, sans-serif" font-weight="700" font-size="19.5" text-anchor="middle" fill="#000" stroke="#000" stroke-width="0.5" stroke-linejoin="round">5</text>
<line x1="1319.6" y1="586" x2="1319.6" y2="602.6" stroke="#111" stroke-width="1.3" />
<polygon points="1319.6,583 1323,589.5 1316.2,589.5" fill="#000"/>
<polygon points="1319.6,605.6 1316.2,599.1 1323,599.1" fill="#000"/>
<text x="0" y="7" transform="translate(1309 628.9) rotate(-90)" font-family="Liberation Sans, sans-serif" font-weight="700" font-size="19.5" text-anchor="middle" fill="#000" stroke="#000" stroke-width="0.5" stroke-linejoin="round">5</text>
<line x1="1319.6" y1="620.7" x2="1319.6" y2="637.3" stroke="#111" stroke-width="1.3" />
<polygon points="1319.6,617.7 1323,624.2 1316.2,624.2" fill="#000"/>
<polygon points="1319.6,640.3 1316.2,633.8 1323,633.8" fill="#000"/>
<text x="0" y="7" transform="translate(1309 664.8) rotate(-90)" font-family="Liberation Sans, sans-serif" font-weight="700" font-size="19.5" text-anchor="middle" fill="#000" stroke="#000" stroke-width="0.5" stroke-linejoin="round">5</text>
<line x1="1319.6" y1="656.6" x2="1319.6" y2="673.2" stroke="#111" stroke-width="1.3" />
<polygon points="1319.6,653.6 1323,660.1 1316.2,660.1" fill="#000"/>
<polygon points="1319.6,676.2 1316.2,669.7 1323,669.7" fill="#000"/>
<text x="0" y="7" transform="translate(1309 804.9) rotate(-90)" font-family="Liberation Sans, sans-serif" font-weight="700" font-size="19.5" text-anchor="middle" fill="#000" stroke="#000" stroke-width="0.5" stroke-linejoin="round">5</text>
<line x1="1319.6" y1="796.7" x2="1319.6" y2="813.3" stroke="#111" stroke-width="1.3" />
<polygon points="1319.6,793.7 1323,800.2 1316.2,800.2" fill="#000"/>
<polygon points="1319.6,816.3 1316.2,809.8 1323,809.8" fill="#000"/>
<text x="0" y="7" transform="translate(1309 841) rotate(-90)" font-family="Liberation Sans, sans-serif" font-weight="700" font-size="19.5" text-anchor="middle" fill="#000" stroke="#000" stroke-width="0.5" stroke-linejoin="round">5</text>
<line x1="1319.6" y1="832.8" x2="1319.6" y2="849.4" stroke="#111" stroke-width="1.3" />
<polygon points="1319.6,829.8 1323,836.3 1316.2,836.3" fill="#000"/>
<polygon points="1319.6,852.4 1316.2,845.9 1323,845.9" fill="#000"/>
<text x="0" y="7" transform="translate(1309 876.5) rotate(-90)" font-family="Liberation Sans, sans-serif" font-weight="700" font-size="19.5" text-anchor="middle" fill="#000" stroke="#000" stroke-width="0.5" stroke-linejoin="round">5</text>
<line x1="1319.6" y1="868.3" x2="1319.6" y2="884.9" stroke="#111" stroke-width="1.3" />
<polygon points="1319.6,865.3 1323,871.8 1316.2,871.8" fill="#000"/>
<polygon points="1319.6,887.9 1316.2,881.4 1323,881.4" fill="#000"/>
<path d="M732.5 559.1 H877.8 L916.8 598.3 V871.8 L878.6 910.4 H732.5 Z" fill="#ffc000" stroke="#111" stroke-width="2.6"/>
<path d="M875 554.2L917.2 598.2" fill="none" stroke="#151515" stroke-width="1.6" stroke-linecap="round"/>
<path d="M875 916.2L917.2 872.2" fill="none" stroke="#151515" stroke-width="1.6" stroke-linecap="round"/>
<polygon points="789.3,565.8 797.5,580.8 789.3,577.8 781.1,580.8" fill="#000"/>
<polygon points="789.3,906.4 781.1,891.4 789.3,894.4 797.5,891.4" fill="#000"/>
<line x1="789.3" y1="577.8" x2="789.3" y2="894.4" stroke="#000" stroke-width="4.4" stroke-dasharray="4.4 4"/>
<text x="-1.1" y="14.3" transform="translate(761.3 735.2) rotate(-90)" font-family="Liberation Sans, sans-serif" font-weight="700" font-size="40" text-anchor="middle" fill="#000" stroke="#000" stroke-width="0.5" stroke-linejoin="round" letter-spacing="-2.2">50</text>
<line x1="878" y1="564.9" x2="878" y2="639.2" stroke="#000" stroke-width="2.7" stroke-dasharray="6.3 4.35"/>
<line x1="887" y1="628.2" x2="908" y2="628.2" stroke="#000" stroke-width="2.6" />
<polygon points="880,628.2 891,622.6 888.8,628.2 891,633.8" fill="#000"/>
<polygon points="915,628.2 904,633.8 906.2,628.2 904,622.6" fill="#000"/>
<text x="897.4" y="622.2"  font-family="Liberation Sans, sans-serif" font-weight="700" font-size="30.5" text-anchor="middle" fill="#000" stroke="#000" stroke-width="0.5" stroke-linejoin="round">5</text>
<line x1="835.8" y1="872.8" x2="916" y2="872.8" stroke="#000" stroke-width="2.6" stroke-dasharray="6.5 4.5"/>
<line x1="835.8" y1="991.4" x2="920.8" y2="991.4" stroke="#000" stroke-width="2.7" />
<line x1="861.5" y1="888" x2="861.5" y2="978" stroke="#000" stroke-width="2.6" stroke-dasharray="6 4"/>
<polygon points="861.5,877.8 867.2,889.3 861.5,886.8 855.8,889.3" fill="#000"/>
<polygon points="861.5,987 855.8,975.5 861.5,978 867.2,975.5" fill="#000"/>
<text x="-1.1" y="14.3" transform="translate(843.2 932.3) rotate(-90)" font-family="Liberation Sans, sans-serif" font-weight="700" font-size="40" text-anchor="middle" fill="#000" stroke="#000" stroke-width="0.5" stroke-linejoin="round" letter-spacing="-2.2">17</text>
<line x1="929.8" y1="746" x2="1367.5" y2="746" stroke="#000" stroke-width="3.8" />
<polygon points="921.8,746 937.8,738.4 932.8,746 937.8,753.6" fill="#000"/>
<rect x="1048" y="711" width="82" height="32.5" fill="#fff"/>
<text x="0" y="0" transform="translate(1089 737.3) scale(0.95 1)" font-family="Liberation Sans, sans-serif" font-weight="700" font-size="34.3" text-anchor="middle" fill="#000" stroke="#000" stroke-width="0.5" stroke-linejoin="round">&#216;128</text>
<circle cx="1218.8" cy="735.2" r="24.3" fill="#fff" stroke="#70ad47" stroke-width="2.8"/>
<text x="1218.8" y="744.5" font-family="Liberation Sans, sans-serif" font-weight="700" font-size="32.5" text-anchor="middle" fill="#000" stroke="#000" stroke-width="0.5">3</text>
<g id="lowR">
<path d="M916.2 1029.4L1005.1 1029.4L1005.1 1346.1L916.2 1346.1Z" fill="url(#gPlate)" stroke="none" stroke-width="0" />
<path d="M963.4 1037.4L918.4 1037.4L918 1040.2C918 1064.5 898.3 1084.2 874.6 1084.2L873.7 1085L873.7 1112.2L916.7 1155.4L963.4 1155.4Z" fill="url(#gKnife)" stroke="none" stroke-width="0" />
<path d="M876.5 1111.7L919 1151.6" fill="none" stroke="#9a9a98" stroke-width="2.2" />
<path d="M963.4 1037.4L918.4 1037.4L918 1040.2C918 1064.5 898.3 1084.2 874.6 1084.2L873.7 1085L873.7 1112.2L916.7 1155.4" fill="none" stroke="#111" stroke-width="2.3" stroke-linejoin="round"/>
<path d="M874.5 1113L916.9 1155.6" fill="none" stroke="#1a1a1a" stroke-width="2.4" />
<path d="M963.4 1339.8L918.4 1339.8L918 1337C918 1312.7 898.3 1293 874.6 1293L873.7 1292.2L873.7 1265L916.7 1221.8L963.4 1221.8Z" fill="url(#gKnife)" stroke="none" stroke-width="0" />
<path d="M876.5 1265.5L919 1225.6" fill="none" stroke="#9a9a98" stroke-width="2.2" />
<path d="M963.4 1339.8L918.4 1339.8L918 1337C918 1312.7 898.3 1293 874.6 1293L873.7 1292.2L873.7 1265L916.7 1221.8" fill="none" stroke="#111" stroke-width="2.3" stroke-linejoin="round"/>
<path d="M874.5 1264.2L916.9 1221.6" fill="none" stroke="#1a1a1a" stroke-width="2.4" />
<path d="M963.4 1037.4L984 1037.4L984 1067.6Q984 1073 989.6 1073L1027.2 1073L1027.2 1129.8L990.8 1129.8Q985.2 1129.8 985.2 1135.2L985.2 1155.6L963.4 1155.6Z" fill="#fff" stroke="none" stroke-width="0" />
<path d="M963.4 1339.8L984 1339.8L984 1309.6Q984 1304.2 989.6 1304.2L1027.2 1304.2L1027.2 1247.4L990.8 1247.4Q985.2 1247.4 985.2 1242L985.2 1221.6L963.4 1221.6Z" fill="#fff" stroke="none" stroke-width="0" />
<path d="M1005.1 1029.4L1026.4 1029.4L1026.4 1346.1L1005.1 1346.1Z" fill="#fff" stroke="none" stroke-width="0" />
<path clip-path="url(#h22)" d="M1048.6 1063L973.7 1137.9M1080.9 1063L1006 1137.9M1113.2 1063L1038.3 1137.9M1145.5 1063L1070.6 1137.9M1177.8 1063L1102.9 1137.9M1210.1 1063L1135.2 1137.9M1242.4 1063L1167.5 1137.9M1274.7 1063L1199.8 1137.9M1307 1063L1232.1 1137.9" fill="none" stroke="#333" stroke-width="1"/>
<path clip-path="url(#h23)" d="M1025.9 1239.3L951 1314.2M1058.2 1239.3L983.3 1314.2M1090.5 1239.3L1015.6 1314.2M1122.8 1239.3L1047.9 1314.2M1155.1 1239.3L1080.2 1314.2M1187.4 1239.3L1112.5 1314.2M1219.7 1239.3L1144.8 1314.2M1252 1239.3L1177.1 1314.2M1284.3 1239.3L1209.4 1314.2M1316.6 1239.3L1241.7 1314.2" fill="none" stroke="#333" stroke-width="1"/>
<path clip-path="url(#h24)" d="M974.3 1133.9L1083.7 1243.3M1006.6 1133.9L1116 1243.3M1038.9 1133.9L1148.3 1243.3M1071.2 1133.9L1180.6 1243.3M1103.5 1133.9L1212.9 1243.3M1135.8 1133.9L1245.2 1243.3M1168.1 1133.9L1277.5 1243.3M1200.4 1133.9L1309.8 1243.3M1232.7 1133.9L1342.1 1243.3" fill="none" stroke="#333" stroke-width="1"/>
<path d="M916.2 1029.4L1026.4 1029.4L1026.4 1346.1L916.2 1346.1Z" fill="none" stroke="#111" stroke-width="2.3" />
<path d="M1005.1 1029.4L1005.1 1346.1" fill="none" stroke="#111" stroke-width="1.9" />
<path d="M917.4 1037.4L984 1037.4L984 1067.6Q984 1073.2 989.6 1073.2L1182.4 1073.7L1189.7 1070L1190.8 1065L1244.6 1065L1253.8 1074.9L1253.8 1125.4L1247.3 1135.2" fill="none" stroke="#111" stroke-width="2.3" />
<path d="M917.4 1339.8L984 1339.8L984 1309.6Q984 1304 989.6 1304L1182.4 1303.5L1189.7 1307.1L1190.8 1312.2L1244.6 1312.2L1253.8 1302.3L1253.8 1251.8L1247.3 1242" fill="none" stroke="#111" stroke-width="2.3" />
<path d="M1244.6 1065L1367.3 1065" fill="none" stroke="#111" stroke-width="2" />
<path d="M1244.6 1312.2L1367.3 1312.2" fill="none" stroke="#111" stroke-width="2" />
<path d="M1253.8 1076.2L1367.3 1076.2" fill="none" stroke="#111" stroke-width="2.3" />
<path d="M1253.8 1301L1367.3 1301" fill="none" stroke="#111" stroke-width="2.3" />
<path d="M1253.8 1124.6L1367.3 1124.6" fill="none" stroke="#111" stroke-width="2.3" />
<path d="M1253.8 1252.6L1367.3 1252.6" fill="none" stroke="#111" stroke-width="2.3" />
<path d="M1190 1135.9L1367.3 1135.9" fill="none" stroke="#111" stroke-width="2.3" />
<path d="M1190 1241.3L1367.3 1241.3" fill="none" stroke="#111" stroke-width="2.3" />
<path d="M1253.8 1143.9L1367.3 1143.9" fill="none" stroke="#111" stroke-width="2.3" />
<path d="M1253.8 1233.3L1367.3 1233.3" fill="none" stroke="#111" stroke-width="2.3" />
<path d="M1048.5 1073.7L1048.5 1129.8" fill="none" stroke="#111" stroke-width="2.3" />
<path d="M1048.5 1303.5L1048.5 1247.4" fill="none" stroke="#111" stroke-width="2.3" />
<path d="M918.7 1155.6L985.2 1155.6L985.2 1135.2Q985.2 1129.8 990.8 1129.8L1182.7 1129.8Q1189 1130.3 1190 1135.9Q1189 1141.5 1182.7 1142L1033 1142Q1026.4 1142 1026.4 1135.6L1026.4 1129.8" fill="none" stroke="#111" stroke-width="2.3" />
<path d="M918.7 1221.6L985.2 1221.6L985.2 1242Q985.2 1247.4 990.8 1247.4L1182.7 1247.4Q1189 1246.9 1190 1241.3Q1189 1235.7 1182.7 1235.2L1033 1235.2Q1026.4 1235.2 1026.4 1241.6L1026.4 1247.4" fill="none" stroke="#111" stroke-width="2.3" />
<path d="M963.4 1037.4L963.4 1155.6" fill="none" stroke="#111" stroke-width="2.3" />
<path d="M963.4 1339.8L963.4 1221.6" fill="none" stroke="#111" stroke-width="2.3" />
<path d="M1087.9 1142L1087.9 1189.1" fill="none" stroke="#111" stroke-width="2.3" />
<path d="M1087.9 1235.2L1087.9 1188.1" fill="none" stroke="#111" stroke-width="2.3" />
<path d="M1247.8 1135.9L1253.8 1143.9L1253.8 1189.1" fill="none" stroke="#111" stroke-width="2.3" />
<path d="M1247.8 1241.3L1253.8 1233.3L1253.8 1188.1" fill="none" stroke="#111" stroke-width="2.3" />
<line x1="1366.1" y1="1051" x2="1366.1" y2="1152" stroke="#111" stroke-width="1.6" />
<line x1="1366.1" y1="1174" x2="1366.1" y2="1198" stroke="#111" stroke-width="1.6" />
<line x1="1366.1" y1="1219" x2="1366.1" y2="1322" stroke="#111" stroke-width="1.6" />
<path d="M732.5 1118.5 H878.4 L916.9 1156 V1220.2 L878.4 1257.7 H732.5 Z" fill="#ffc000" stroke="#111" stroke-width="2.6"/>
<path d="M875.2 1113.4L916.8 1156" fill="none" stroke="#151515" stroke-width="1.6" stroke-linecap="round"/>
<path d="M875.2 1263.8L916.8 1221.2" fill="none" stroke="#151515" stroke-width="1.6" stroke-linecap="round"/>
<polygon points="786,1122.6 794.2,1137.6 786,1134.6 777.8,1137.6" fill="#000"/>
<polygon points="786,1252.9 777.8,1237.9 786,1240.9 794.2,1237.9" fill="#000"/>
<line x1="786" y1="1134.6" x2="786" y2="1240.9" stroke="#000" stroke-width="4.4" stroke-dasharray="4.4 4"/>
<text x="-1.1" y="14.3" transform="translate(758.8 1187) rotate(-90)" font-family="Liberation Sans, sans-serif" font-weight="700" font-size="40" text-anchor="middle" fill="#000" stroke="#000" stroke-width="0.5" stroke-linejoin="round" letter-spacing="-2.2">20</text>
<line x1="854.5" y1="1155.8" x2="915" y2="1155.8" stroke="#000" stroke-width="2.6" stroke-dasharray="6.5 4.5"/>
<line x1="878" y1="1127" x2="878" y2="1145" stroke="#000" stroke-width="2.6" />
<polygon points="878,1119.7 883.6,1130.7 878,1128.5 872.4,1130.7" fill="#000"/>
<polygon points="878,1152.2 872.4,1141.2 878,1143.4 883.6,1141.2" fill="#000"/>
<text x="0" y="11.5" transform="translate(858.4 1136.2) rotate(-90)" font-family="Liberation Sans, sans-serif" font-weight="700" font-size="32" text-anchor="middle" fill="#000" stroke="#000" stroke-width="0.5" stroke-linejoin="round">5</text>
</g>
<g mask="url(#mR)"><use href="#lowR" transform="translate(0 2695.4) scale(1 -1)"/></g>
<circle cx="1218.8" cy="1094.2" r="24.3" fill="#fff" stroke="#70ad47" stroke-width="2.8"/>
<text x="1218.8" y="1103.5" font-family="Liberation Sans, sans-serif" font-weight="700" font-size="32.5" text-anchor="middle" fill="#000" stroke="#000" stroke-width="0.5">1</text>
<circle cx="1218.8" cy="1187.4" r="24.3" fill="#fff" stroke="#70ad47" stroke-width="2.8"/>
<text x="1218.8" y="1196.7" font-family="Liberation Sans, sans-serif" font-weight="700" font-size="32.5" text-anchor="middle" fill="#000" stroke="#000" stroke-width="0.5">3</text>
<circle cx="1218.8" cy="1280.3" r="24.3" fill="#fff" stroke="#70ad47" stroke-width="2.8"/>
<text x="1218.8" y="1289.6" font-family="Liberation Sans, sans-serif" font-weight="700" font-size="32.5" text-anchor="middle" fill="#000" stroke="#000" stroke-width="0.5">2</text>
<g transform="translate(0 0)" filter="url(#fSh2)">
<path d="M670 264.1A107.6 32 0 1 0 517.7 235C517.7 244 528 250.5 544 252.3L505.3 253.2 L584.6 271.2 L587.3 243 L568.3 250.4A77.4 22.5 0 1 1 650.1 257.4Z" fill="url(#gRot)" stroke="#000" stroke-width="1.3" stroke-linejoin="miter"/>
</g>
<g transform="translate(640 210)" filter="url(#fSh2)">
<path d="M670 264.1A107.6 32 0 1 0 517.7 235C517.7 244 528 250.5 544 252.3L505.3 253.2 L584.6 271.2 L587.3 243 L568.3 250.4A77.4 22.5 0 1 1 650.1 257.4Z" fill="url(#gRot)" stroke="#000" stroke-width="1.3" stroke-linejoin="miter"/>
</g>
<g transform="translate(0 0)">
<path d="M570.3 93 V246 A47.7 22 0 0 0 665.7 246 V93 Z" fill="url(#gCyl)"/>
<path d="M570.3 93 V200 H665.7 V93 Z" fill="url(#gCylH)"/>
<path d="M570.3 110 V246 A47.7 22 0 0 0 665.7 246 V110" fill="none" stroke="#e9e9e9" stroke-width="0.8" opacity="0.8"/>
<ellipse cx="618" cy="95.3" rx="48" ry="22.4" fill="#fff"/>
<ellipse cx="618" cy="91.4" rx="47.6" ry="21.6" fill="#b8b8b8"/>
</g>
<g transform="translate(640 210)">
<path d="M570.3 93 V246 A47.7 22 0 0 0 665.7 246 V93 Z" fill="url(#gCyl)"/>
<path d="M570.3 93 V200 H665.7 V93 Z" fill="url(#gCylH)"/>
<path d="M570.3 110 V246 A47.7 22 0 0 0 665.7 246 V110" fill="none" stroke="#e9e9e9" stroke-width="0.8" opacity="0.8"/>
<ellipse cx="618" cy="95.3" rx="48" ry="22.4" fill="#fff"/>
<ellipse cx="618" cy="91.4" rx="47.6" ry="21.6" fill="#b8b8b8"/>
</g>
</g>
</svg>
</body></html>
